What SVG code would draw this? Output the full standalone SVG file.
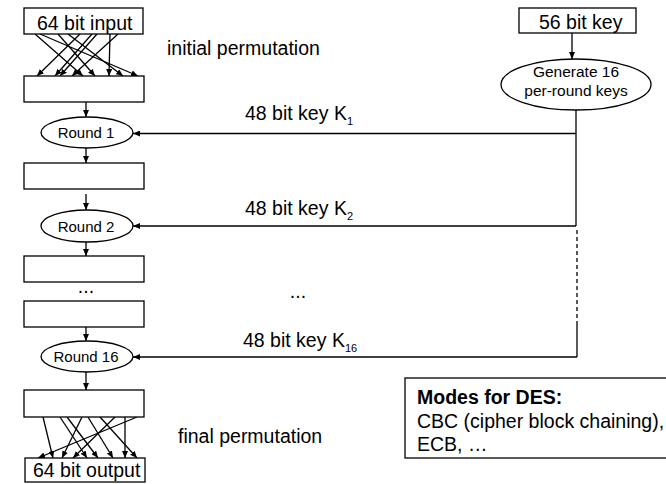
<svg xmlns="http://www.w3.org/2000/svg" width="666" height="484" viewBox="0 0 666 484">
<style>
.box{fill:#fff;stroke:#000;stroke-width:1.3}
.ln{fill:none;stroke:#000;stroke-width:1.3}
.t{font-family:"Liberation Sans",Arial,sans-serif;font-size:19.5px;fill:#000}
.s{font-family:"Liberation Sans",Arial,sans-serif;font-size:15px;fill:#000}
.sub{font-size:11px}
.b{font-weight:bold}
</style>
<defs>
<marker id="ah" markerUnits="userSpaceOnUse" markerWidth="8" markerHeight="6" refX="7" refY="3" orient="auto">
<path d="M0,0 L7,3 L0,6 z" fill="#000"/>
</marker>
</defs>
<rect width="666" height="484" fill="#fff"/>
<g id="connectors">
<g marker-end="url(#ah)" class="ln">
<line x1="35" y1="34" x2="83" y2="76"/>
<line x1="40" y1="34" x2="138" y2="76"/>
<line x1="58" y1="34" x2="95" y2="76"/>
<line x1="68" y1="34" x2="123" y2="76"/>
<line x1="80" y1="34" x2="37" y2="76"/>
<line x1="92" y1="34" x2="55" y2="76"/>
<line x1="97" y1="34" x2="60" y2="76"/>
<line x1="110" y1="34" x2="109" y2="76"/>
<line x1="118" y1="34" x2="72" y2="76"/>
<line x1="86" y1="102" x2="86" y2="117"/>
<line x1="86" y1="148" x2="86" y2="163"/>
<line x1="86" y1="194" x2="86" y2="210"/>
<line x1="86" y1="242" x2="86" y2="256"/>
<line x1="86" y1="327" x2="86" y2="341"/>
<line x1="86" y1="372" x2="86" y2="390"/>
<line x1="43" y1="417" x2="53" y2="458"/>
<line x1="60" y1="417" x2="87" y2="458"/>
<line x1="67" y1="417" x2="98" y2="458"/>
<line x1="82" y1="417" x2="62" y2="458"/>
<line x1="88" y1="417" x2="113" y2="458"/>
<line x1="100" y1="417" x2="137" y2="458"/>
<line x1="115" y1="417" x2="73" y2="458"/>
<line x1="125" y1="417" x2="125" y2="458"/>
<line x1="137" y1="417" x2="38" y2="458"/>
<line x1="572" y1="33" x2="572" y2="59"/>
<line x1="576" y1="133.5" x2="133" y2="133.5"/>
<line x1="576" y1="226" x2="133" y2="226"/>
<line x1="577" y1="357" x2="133" y2="357"/>
</g>
<path class="ln" d="M576,110 V226"/>
<path class="ln" d="M577,230 V323" stroke-dasharray="4,3"/>
<path class="ln" d="M577,323 V357"/>
</g>
<g id="input">
<rect class="box" x="24" y="8" width="119" height="26"/>
<text class="t" x="37" y="30">64 bit input</text>
</g>
<g id="ip-box"><rect class="box" x="24" y="76" width="120" height="26"/></g>
<g id="round1">
<ellipse class="box" cx="87" cy="132.5" rx="46" ry="15.5"/>
<text class="s" x="86" y="138" text-anchor="middle">Round 1</text>
</g>
<g id="box2"><rect class="box" x="24" y="163" width="120" height="26"/></g>
<g id="round2">
<ellipse class="box" cx="87" cy="226" rx="46" ry="16"/>
<text class="s" x="86" y="231.5" text-anchor="middle">Round 2</text>
</g>
<g id="box3"><rect class="box" x="24" y="256" width="120" height="26"/></g>
<text class="t" x="86" y="293" text-anchor="middle">...</text>
<g id="box4"><rect class="box" x="24" y="301" width="120" height="26"/></g>
<g id="round16">
<ellipse class="box" cx="87" cy="356.5" rx="46" ry="15.5"/>
<text class="s" x="86" y="362" text-anchor="middle">Round 16</text>
</g>
<g id="fp-box"><rect class="box" x="24" y="390" width="120" height="27"/></g>
<g id="output">
<rect class="box" x="25" y="458" width="120" height="24"/>
<text class="t" x="33" y="477">64 bit output</text>
</g>
<g id="key">
<rect class="box" x="519" y="8" width="117" height="25"/>
<text class="t" x="539" y="29">56 bit key</text>
</g>
<g id="keygen">
<ellipse class="box" cx="576" cy="84.5" rx="75" ry="25.5"/>
<text class="s" x="576" y="77" text-anchor="middle" style="font-size:15.5px">Generate 16</text>
<text class="s" x="576" y="96" text-anchor="middle" style="font-size:15.5px">per-round keys</text>
</g>
<text class="t" x="167" y="55">initial permutation</text>
<text class="t" x="178" y="443">final permutation</text>
<text class="t" x="245" y="120">48 bit key K<tspan class="sub" dy="5">1</tspan></text>
<text class="t" x="245" y="215">48 bit key K<tspan class="sub" dy="5">2</tspan></text>
<text class="t" x="243" y="347">48 bit key K<tspan class="sub" dy="5">16</tspan></text>
<text class="t" x="298" y="298" text-anchor="middle">...</text>
<g id="modes">
<rect class="box" x="405" y="378" width="300" height="80"/>
<text class="t b" x="417" y="404">Modes for DES:</text>
<text class="t" x="417" y="428">CBC (cipher block chaining),</text>
<text class="t" x="417" y="451">ECB, …</text>
</g>
</svg>
